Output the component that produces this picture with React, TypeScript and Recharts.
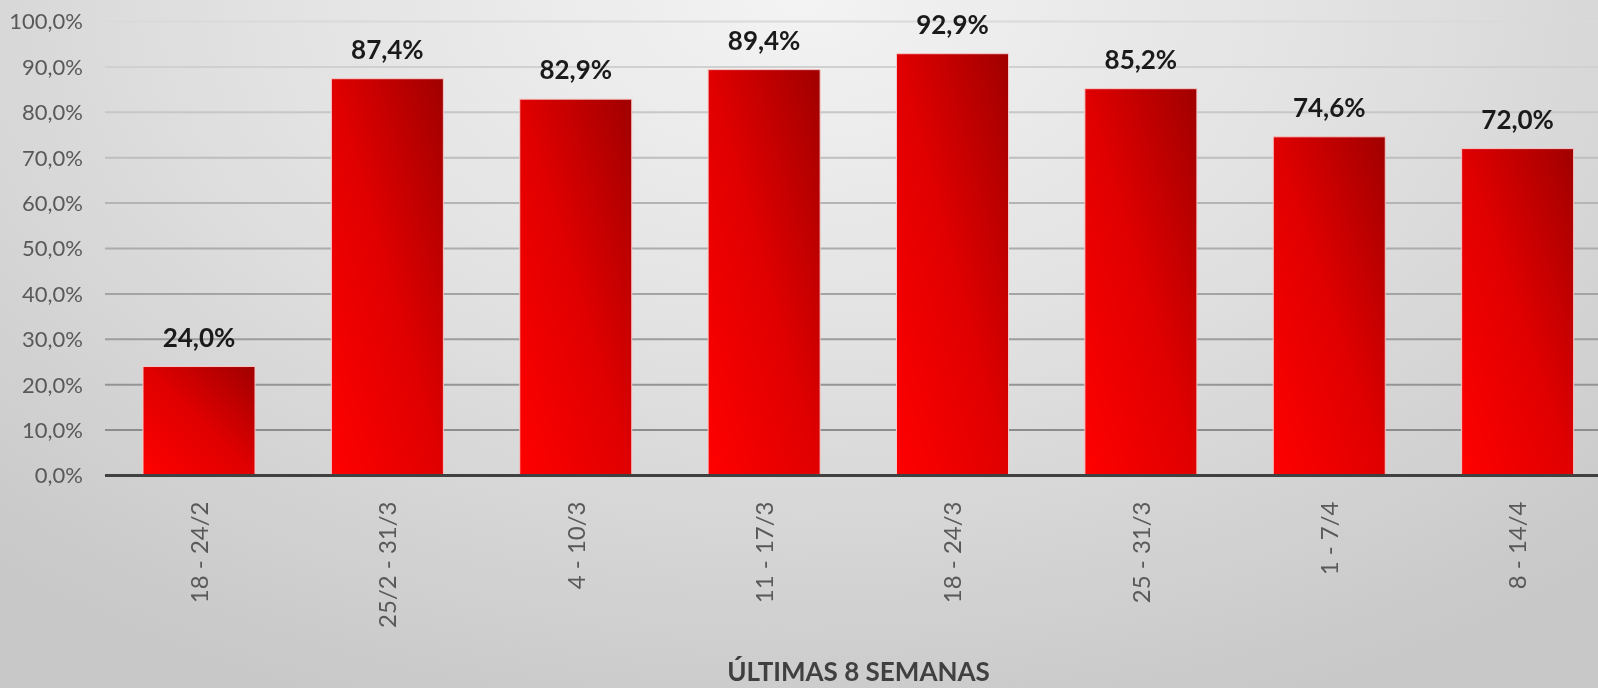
import React from "react";
import {
  BarChart,
  Bar,
  XAxis,
  YAxis,
  CartesianGrid,
  LabelList,
} from "recharts";

const weeks = [
  "18 - 24/2",
  "25/2 - 31/3",
  "4 - 10/3",
  "11 - 17/3",
  "18 - 24/3",
  "25 - 31/3",
  "1 - 7/4",
  "8 - 14/4",
];
const rates = [24.0, 87.4, 82.9, 89.4, 92.9, 85.2, 74.6, 72.0];
const yTicks = [0, 10, 20, 30, 40, 50, 60, 70, 80, 90, 100];

const data = weeks.map((week, i) => ({ week, rate: rates[i] }));

const pct = (v: number) => v.toFixed(1).replace(".", ",") + "%";

const FONT = "Lato, 'Open Sans', sans-serif";

const WeekTick = (props: any) => {
  const { x, y, payload } = props;
  return (
    <text
      transform={`translate(${x},${y}) rotate(-90)`}
      x={-18}
      dy="0.36em"
      textAnchor="end"
      fill="#595959"
      fontSize={24}
      fontFamily={FONT}
    >
      {payload.value}
    </text>
  );
};

const App = () => {
  return (
    <div
      style={{
        position: "fixed",
        left: 0,
        top: 0,
        width: 1598,
        height: 688,
        overflow: "hidden",
        background:
          "radial-gradient(ellipse 75% 110% at 50% 0%, #f3f3f3 0%, #e2e2e2 45%, #c8c8c8 100%)",
      }}
    >
      <BarChart
        width={1612}
        height={688}
        data={data}
        margin={{ top: 21.5, right: 0, bottom: 0, left: 0 }}
        barCategoryGap={38}
      >
        <defs>
          <linearGradient id="barFill" x1="0" y1="1" x2="1" y2="0">
            <stop offset="0%" stopColor="#ff0000" />
            <stop offset="50%" stopColor="#e00000" />
            <stop offset="100%" stopColor="#a00000" />
          </linearGradient>
          <linearGradient
            id="gridStroke"
            gradientUnits="userSpaceOnUse"
            x1="0"
            y1="20"
            x2="0"
            y2="475"
          >
            <stop offset="0%" stopColor="#dadada" />
            <stop offset="45%" stopColor="#b0b0b0" />
            <stop offset="100%" stopColor="#858585" />
          </linearGradient>
        </defs>
        <CartesianGrid
          vertical={false}
          stroke="url(#gridStroke)"
          strokeWidth={2}
        />
        <XAxis
          dataKey="week"
          height={212.5}
          axisLine={{ stroke: "#404040", strokeWidth: 3 }}
          tickLine={false}
          interval={0}
          tick={<WeekTick />}
          label={{
            value: "ÚLTIMAS 8 SEMANAS",
            position: "insideBottom",
            offset: 7,
            fill: "#404040",
            fontSize: 26,
            fontWeight: 700,
            fontFamily: FONT,
          }}
        />
        <YAxis
          width={105}
          domain={[0, 100]}
          ticks={yTicks}
          interval={0}
          axisLine={false}
          tickLine={false}
          tickSize={0}
          tickMargin={22}
          tickFormatter={pct}
          tick={{ fill: "#595959", fontSize: 22, fontFamily: FONT }}
        />
        <Bar
          dataKey="rate"
          fill="url(#barFill)"
          stroke="#f6c8c8"
          strokeWidth={1}
          isAnimationActive={false}
        >
          <LabelList
            dataKey="rate"
            position="top"
            offset={20}
            formatter={(v: any) => pct(Number(v))}
            fill="#1a1a1a"
            fontSize={26}
            fontWeight={700}
            fontFamily={FONT}
          />
        </Bar>
      </BarChart>
    </div>
  );
};

export default App;
